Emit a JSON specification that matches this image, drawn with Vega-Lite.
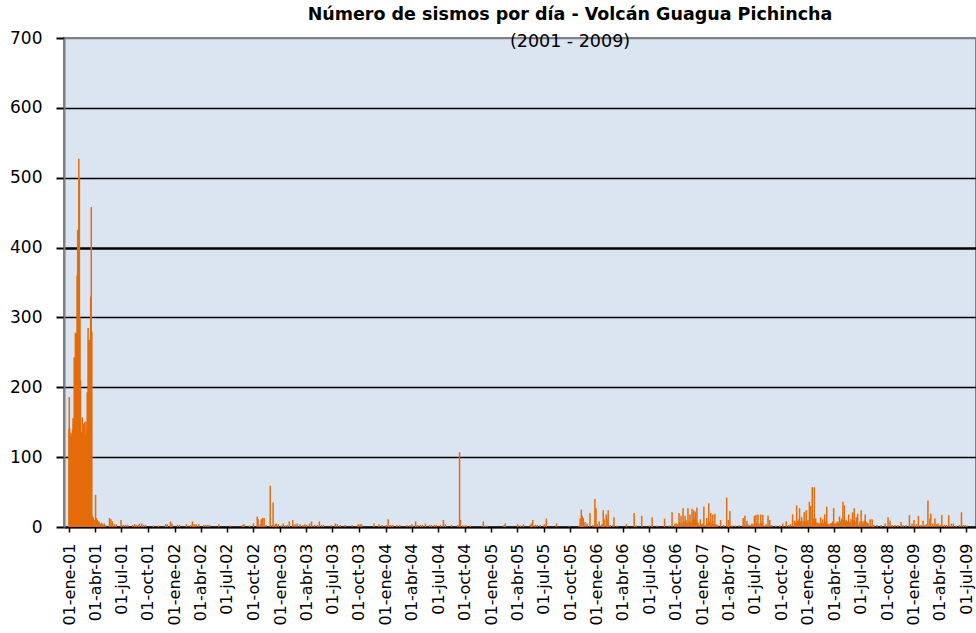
{
  "$schema": "https://vega.github.io/schema/vega-lite/v6.json",
  "width": 912,
  "height": 489,
  "autosize": {"type": "none"},
  "padding": {"left": 64, "top": 38, "right": 0, "bottom": 106},
  "background": "#ffffff",
  "title": {
    "text": "Número de sismos por día - Volcán Guagua Pichincha",
    "subtitle": "(2001 - 2009)",
    "anchor": "middle",
    "dx": 50,
    "offset": -21,
    "font": "DejaVu Sans",
    "fontSize": 17.5,
    "fontWeight": "bold",
    "color": "#000000",
    "subtitleFont": "DejaVu Sans",
    "subtitleFontSize": 17.5,
    "subtitleFontWeight": "normal",
    "subtitleColor": "#000000",
    "subtitlePadding": 9
  },
  "config": {
    "view": {"fill": "#dbe5f1", "stroke": "#808080", "strokeWidth": 2},
    "axis": {"labelFont": "DejaVu Sans", "labelColor": "#000000", "tickColor": "#000000"}
  },
  "data": {
    "values": [
      {"d":"2001-01-01","n":140},{"d":"2001-01-02","n":186},{"d":"2001-01-03","n":142},{"d":"2001-01-05","n":135},
      {"d":"2001-01-07","n":130},{"d":"2001-01-09","n":128},{"d":"2001-01-11","n":134},{"d":"2001-01-13","n":140},
      {"d":"2001-01-15","n":156},{"d":"2001-01-17","n":150},{"d":"2001-01-19","n":243},{"d":"2001-01-21","n":200},
      {"d":"2001-01-23","n":278},{"d":"2001-01-25","n":250},{"d":"2001-01-27","n":278},{"d":"2001-01-29","n":360},
      {"d":"2001-01-31","n":425},{"d":"2001-02-02","n":420},{"d":"2001-02-04","n":527},{"d":"2001-02-06","n":500},
      {"d":"2001-02-08","n":300},{"d":"2001-02-10","n":210},{"d":"2001-02-12","n":136},{"d":"2001-02-14","n":136},
      {"d":"2001-02-16","n":157},{"d":"2001-02-18","n":140},{"d":"2001-02-20","n":148},{"d":"2001-02-22","n":132},
      {"d":"2001-02-24","n":150},{"d":"2001-02-26","n":132},{"d":"2001-03-01","n":151},{"d":"2001-03-03","n":140},
      {"d":"2001-03-05","n":193},{"d":"2001-03-08","n":285},{"d":"2001-03-10","n":268},{"d":"2001-03-12","n":260},
      {"d":"2001-03-14","n":268},{"d":"2001-03-17","n":330},{"d":"2001-03-19","n":458},{"d":"2001-03-21","n":280},
      {"d":"2001-03-24","n":15},{"d":"2001-03-26","n":13},{"d":"2001-03-29","n":10},{"d":"2001-04-03","n":46},
      {"d":"2001-04-06","n":13},{"d":"2001-04-09","n":10},{"d":"2001-04-12","n":8},{"d":"2001-04-15","n":8},
      {"d":"2001-04-19","n":5},{"d":"2001-04-24","n":6},{"d":"2001-04-28","n":4},{"d":"2001-05-03","n":5},
      {"d":"2001-05-07","n":3},{"d":"2001-05-21","n":13},{"d":"2001-05-26","n":11},{"d":"2001-05-31","n":8},
      {"d":"2001-06-06","n":4},{"d":"2001-06-13","n":4},{"d":"2001-06-30","n":10},{"d":"2001-07-03","n":3},
      {"d":"2001-07-09","n":3},{"d":"2001-07-16","n":3},{"d":"2001-07-23","n":3},{"d":"2001-08-09","n":3},
      {"d":"2001-08-16","n":4},{"d":"2001-08-22","n":3},{"d":"2001-08-29","n":3},{"d":"2001-09-02","n":5},
      {"d":"2001-09-10","n":5},{"d":"2001-09-16","n":3},{"d":"2001-09-23","n":3},{"d":"2001-10-20","n":2},
      {"d":"2001-11-06","n":2},{"d":"2001-12-01","n":4},{"d":"2001-12-07","n":4},{"d":"2001-12-18","n":8},
      {"d":"2001-12-23","n":5},{"d":"2002-01-11","n":3},{"d":"2002-01-18","n":3},{"d":"2002-02-11","n":4},
      {"d":"2002-02-25","n":3},{"d":"2002-03-04","n":8},{"d":"2002-03-10","n":4},{"d":"2002-03-17","n":4},
      {"d":"2002-03-26","n":4},{"d":"2002-04-12","n":3},{"d":"2002-04-19","n":3},{"d":"2002-04-26","n":3},
      {"d":"2002-05-02","n":3},{"d":"2002-06-03","n":4},{"d":"2002-07-13","n":2},{"d":"2002-08-24","n":3},
      {"d":"2002-08-29","n":4},{"d":"2002-09-17","n":2},{"d":"2002-10-01","n":5},{"d":"2002-10-14","n":15},
      {"d":"2002-10-17","n":11},{"d":"2002-10-24","n":4},{"d":"2002-10-28","n":11},{"d":"2002-11-02","n":13},
      {"d":"2002-11-07","n":13},{"d":"2002-11-14","n":3},{"d":"2002-11-28","n":59},{"d":"2002-12-05","n":3},
      {"d":"2002-12-08","n":35},{"d":"2002-12-15","n":4},{"d":"2002-12-19","n":5},{"d":"2002-12-26","n":4},
      {"d":"2003-01-05","n":2},{"d":"2003-01-12","n":5},{"d":"2003-01-19","n":2},{"d":"2003-01-26","n":3},
      {"d":"2003-02-02","n":8},{"d":"2003-02-14","n":10},{"d":"2003-02-22","n":4},{"d":"2003-03-01","n":5},
      {"d":"2003-03-11","n":4},{"d":"2003-03-21","n":3},{"d":"2003-03-28","n":4},{"d":"2003-04-03","n":3},
      {"d":"2003-04-13","n":5},{"d":"2003-04-20","n":8},{"d":"2003-04-30","n":3},{"d":"2003-05-10","n":3},
      {"d":"2003-05-17","n":8},{"d":"2003-05-24","n":3},{"d":"2003-05-31","n":3},{"d":"2003-06-27","n":3},
      {"d":"2003-07-11","n":5},{"d":"2003-07-18","n":4},{"d":"2003-07-28","n":3},{"d":"2003-08-14","n":3},
      {"d":"2003-09-07","n":3},{"d":"2003-09-28","n":4},{"d":"2003-10-05","n":4},{"d":"2003-10-10","n":4},
      {"d":"2003-11-22","n":5},{"d":"2003-12-09","n":4},{"d":"2003-12-20","n":3},{"d":"2004-01-03","n":3},
      {"d":"2004-01-10","n":11},{"d":"2004-01-17","n":3},{"d":"2004-01-25","n":3},{"d":"2004-02-09","n":3},
      {"d":"2004-02-19","n":3},{"d":"2004-03-15","n":3},{"d":"2004-03-25","n":3},{"d":"2004-04-01","n":4},
      {"d":"2004-04-14","n":8},{"d":"2004-04-21","n":3},{"d":"2004-05-01","n":3},{"d":"2004-05-08","n":3},
      {"d":"2004-05-18","n":5},{"d":"2004-06-01","n":3},{"d":"2004-06-08","n":3},{"d":"2004-06-18","n":3},
      {"d":"2004-06-25","n":3},{"d":"2004-07-09","n":3},{"d":"2004-07-19","n":10},{"d":"2004-07-26","n":4},
      {"d":"2004-08-16","n":3},{"d":"2004-09-06","n":3},{"d":"2004-09-13","n":107},{"d":"2004-09-16","n":10},
      {"d":"2004-09-24","n":2},{"d":"2004-09-30","n":2},{"d":"2004-10-06","n":2},{"d":"2004-10-20","n":2},
      {"d":"2004-12-04","n":8},{"d":"2004-12-11","n":2},{"d":"2004-12-18","n":2},{"d":"2005-02-14","n":3},
      {"d":"2005-02-18","n":5},{"d":"2005-04-02","n":4},{"d":"2005-04-12","n":2},{"d":"2005-04-22","n":4},
      {"d":"2005-05-16","n":3},{"d":"2005-05-19","n":5},{"d":"2005-05-24","n":10},{"d":"2005-06-02","n":3},
      {"d":"2005-06-09","n":3},{"d":"2005-06-19","n":3},{"d":"2005-07-03","n":4},{"d":"2005-07-10","n":12},
      {"d":"2005-08-14","n":5},{"d":"2005-09-28","n":2},{"d":"2005-11-01","n":2},{"d":"2005-11-04","n":12},
      {"d":"2005-11-08","n":25},{"d":"2005-11-11","n":16},{"d":"2005-11-15","n":13},{"d":"2005-11-21","n":7},
      {"d":"2005-11-28","n":5},{"d":"2005-12-08","n":20},{"d":"2005-12-18","n":3},{"d":"2005-12-25","n":40},
      {"d":"2005-12-29","n":27},{"d":"2006-01-02","n":4},{"d":"2006-01-09","n":8},{"d":"2006-01-16","n":3},
      {"d":"2006-01-19","n":4},{"d":"2006-01-23","n":24},{"d":"2006-01-26","n":11},{"d":"2006-02-02","n":18},
      {"d":"2006-02-05","n":12},{"d":"2006-02-09","n":24},{"d":"2006-02-16","n":3},{"d":"2006-02-26","n":3},
      {"d":"2006-03-01","n":14},{"d":"2006-03-13","n":2},{"d":"2006-04-13","n":4},{"d":"2006-05-10","n":20},
      {"d":"2006-05-17","n":2},{"d":"2006-06-05","n":16},{"d":"2006-07-01","n":2},{"d":"2006-07-11","n":14},
      {"d":"2006-07-28","n":2},{"d":"2006-08-23","n":12},{"d":"2006-09-08","n":2},{"d":"2006-09-18","n":21},
      {"d":"2006-09-28","n":5},{"d":"2006-10-02","n":5},{"d":"2006-10-08","n":4},{"d":"2006-10-12","n":20},
      {"d":"2006-10-15","n":6},{"d":"2006-10-19","n":16},{"d":"2006-10-22","n":5},{"d":"2006-10-26","n":27},
      {"d":"2006-10-29","n":8},{"d":"2006-11-02","n":16},{"d":"2006-11-05","n":10},{"d":"2006-11-09","n":6},
      {"d":"2006-11-12","n":27},{"d":"2006-11-16","n":8},{"d":"2006-11-19","n":18},{"d":"2006-11-22","n":7},
      {"d":"2006-11-26","n":26},{"d":"2006-11-29","n":10},{"d":"2006-12-02","n":24},{"d":"2006-12-05","n":12},
      {"d":"2006-12-08","n":22},{"d":"2006-12-11","n":9},{"d":"2006-12-13","n":28},{"d":"2006-12-17","n":6},
      {"d":"2006-12-20","n":3},{"d":"2006-12-25","n":11},{"d":"2006-12-30","n":4},{"d":"2007-01-03","n":5},
      {"d":"2007-01-06","n":29},{"d":"2007-01-11","n":3},{"d":"2007-01-16","n":13},{"d":"2007-01-20","n":5},
      {"d":"2007-01-23","n":34},{"d":"2007-01-26","n":8},{"d":"2007-01-30","n":20},{"d":"2007-02-03","n":6},
      {"d":"2007-02-06","n":18},{"d":"2007-02-10","n":5},{"d":"2007-02-13","n":19},{"d":"2007-02-17","n":4},
      {"d":"2007-02-23","n":3},{"d":"2007-03-05","n":10},{"d":"2007-03-15","n":3},{"d":"2007-03-26","n":42},
      {"d":"2007-04-01","n":10},{"d":"2007-04-06","n":23},{"d":"2007-04-14","n":2},{"d":"2007-04-25","n":2},
      {"d":"2007-05-08","n":3},{"d":"2007-05-22","n":13},{"d":"2007-05-25","n":4},{"d":"2007-05-28","n":16},
      {"d":"2007-06-04","n":9},{"d":"2007-06-08","n":4},{"d":"2007-06-15","n":3},{"d":"2007-06-21","n":5},
      {"d":"2007-06-25","n":4},{"d":"2007-06-30","n":16},{"d":"2007-07-05","n":17},{"d":"2007-07-08","n":6},
      {"d":"2007-07-12","n":18},{"d":"2007-07-16","n":5},{"d":"2007-07-22","n":18},{"d":"2007-07-25","n":6},
      {"d":"2007-07-29","n":17},{"d":"2007-08-05","n":2},{"d":"2007-08-10","n":4},{"d":"2007-08-16","n":16},
      {"d":"2007-08-22","n":10},{"d":"2007-08-29","n":3},{"d":"2007-09-12","n":2},{"d":"2007-09-26","n":2},
      {"d":"2007-10-06","n":5},{"d":"2007-10-18","n":8},{"d":"2007-10-27","n":3},{"d":"2007-11-02","n":4},
      {"d":"2007-11-09","n":18},{"d":"2007-11-16","n":9},{"d":"2007-11-20","n":6},{"d":"2007-11-23","n":31},
      {"d":"2007-11-27","n":8},{"d":"2007-11-30","n":11},{"d":"2007-12-03","n":27},{"d":"2007-12-07","n":8},
      {"d":"2007-12-10","n":14},{"d":"2007-12-15","n":9},{"d":"2007-12-19","n":21},{"d":"2007-12-22","n":9},
      {"d":"2007-12-26","n":24},{"d":"2007-12-29","n":8},{"d":"2008-01-01","n":10},{"d":"2008-01-06","n":36},
      {"d":"2008-01-11","n":30},{"d":"2008-01-16","n":57},{"d":"2008-01-19","n":12},{"d":"2008-01-23","n":57},
      {"d":"2008-01-28","n":12},{"d":"2008-02-01","n":6},{"d":"2008-02-05","n":6},{"d":"2008-02-09","n":5},
      {"d":"2008-02-14","n":14},{"d":"2008-02-17","n":6},{"d":"2008-02-21","n":11},{"d":"2008-02-24","n":6},
      {"d":"2008-02-28","n":18},{"d":"2008-03-02","n":8},{"d":"2008-03-06","n":29},{"d":"2008-03-09","n":5},
      {"d":"2008-03-13","n":4},{"d":"2008-03-18","n":5},{"d":"2008-03-23","n":6},{"d":"2008-03-27","n":8},
      {"d":"2008-03-30","n":27},{"d":"2008-04-02","n":5},{"d":"2008-04-05","n":4},{"d":"2008-04-08","n":6},
      {"d":"2008-04-12","n":8},{"d":"2008-04-16","n":6},{"d":"2008-04-19","n":15},{"d":"2008-04-22","n":8},
      {"d":"2008-04-26","n":12},{"d":"2008-05-01","n":36},{"d":"2008-05-03","n":10},{"d":"2008-05-06","n":31},
      {"d":"2008-05-09","n":8},{"d":"2008-05-12","n":10},{"d":"2008-05-16","n":8},{"d":"2008-05-21","n":18},
      {"d":"2008-05-25","n":7},{"d":"2008-05-29","n":11},{"d":"2008-06-03","n":21},{"d":"2008-06-06","n":10},
      {"d":"2008-06-09","n":27},{"d":"2008-06-12","n":8},{"d":"2008-06-16","n":14},{"d":"2008-06-21","n":19},
      {"d":"2008-06-26","n":5},{"d":"2008-06-29","n":8},{"d":"2008-07-03","n":24},{"d":"2008-07-06","n":8},
      {"d":"2008-07-10","n":5},{"d":"2008-07-13","n":9},{"d":"2008-07-17","n":18},{"d":"2008-07-20","n":8},
      {"d":"2008-07-24","n":6},{"d":"2008-07-28","n":5},{"d":"2008-08-03","n":11},{"d":"2008-08-10","n":11},
      {"d":"2008-08-16","n":3},{"d":"2008-08-27","n":3},{"d":"2008-09-10","n":3},{"d":"2008-09-24","n":5},
      {"d":"2008-10-04","n":14},{"d":"2008-10-11","n":9},{"d":"2008-10-18","n":3},{"d":"2008-10-28","n":3},
      {"d":"2008-11-07","n":3},{"d":"2008-11-18","n":7},{"d":"2008-11-25","n":3},{"d":"2008-12-05","n":3},
      {"d":"2008-12-17","n":17},{"d":"2008-12-26","n":5},{"d":"2009-01-02","n":10},{"d":"2009-01-10","n":4},
      {"d":"2009-01-17","n":16},{"d":"2009-01-26","n":3},{"d":"2009-02-02","n":9},{"d":"2009-02-09","n":3},
      {"d":"2009-02-14","n":4},{"d":"2009-02-19","n":38},{"d":"2009-02-26","n":12},{"d":"2009-03-01","n":19},
      {"d":"2009-03-08","n":5},{"d":"2009-03-15","n":12},{"d":"2009-03-20","n":4},{"d":"2009-03-26","n":5},
      {"d":"2009-04-03","n":3},{"d":"2009-04-08","n":17},{"d":"2009-04-17","n":3},{"d":"2009-04-24","n":3},
      {"d":"2009-05-02","n":17},{"d":"2009-05-11","n":5},{"d":"2009-05-18","n":5},{"d":"2009-05-28","n":2},
      {"d":"2009-06-08","n":3},{"d":"2009-06-15","n":21},{"d":"2009-06-22","n":3},{"d":"2009-06-28","n":3},
      {"d":"2009-07-05","n":2}
    ]
  },
  "mark": {"type": "bar", "width": 1.5, "color": "#e46c0a"},
  "encoding": {
    "x": {
      "field": "d",
      "type": "temporal",
      "scale": {
        "type": "utc",
        "domain": [
          {"year": 2001, "month": 1, "date": 1, "utc": true},
          {"year": 2009, "month": 7, "date": 18, "utc": true}
        ]
      },
      "axis": {
        "title": null,
        "values": [
          {"year":2001,"month":1,"date":1,"utc":true},{"year":2001,"month":4,"date":1,"utc":true},{"year":2001,"month":7,"date":1,"utc":true},{"year":2001,"month":10,"date":1,"utc":true},
          {"year":2002,"month":1,"date":1,"utc":true},{"year":2002,"month":4,"date":1,"utc":true},{"year":2002,"month":7,"date":1,"utc":true},{"year":2002,"month":10,"date":1,"utc":true},
          {"year":2003,"month":1,"date":1,"utc":true},{"year":2003,"month":4,"date":1,"utc":true},{"year":2003,"month":7,"date":1,"utc":true},{"year":2003,"month":10,"date":1,"utc":true},
          {"year":2004,"month":1,"date":1,"utc":true},{"year":2004,"month":4,"date":1,"utc":true},{"year":2004,"month":7,"date":1,"utc":true},{"year":2004,"month":10,"date":1,"utc":true},
          {"year":2005,"month":1,"date":1,"utc":true},{"year":2005,"month":4,"date":1,"utc":true},{"year":2005,"month":7,"date":1,"utc":true},{"year":2005,"month":10,"date":1,"utc":true},
          {"year":2006,"month":1,"date":1,"utc":true},{"year":2006,"month":4,"date":1,"utc":true},{"year":2006,"month":7,"date":1,"utc":true},{"year":2006,"month":10,"date":1,"utc":true},
          {"year":2007,"month":1,"date":1,"utc":true},{"year":2007,"month":4,"date":1,"utc":true},{"year":2007,"month":7,"date":1,"utc":true},{"year":2007,"month":10,"date":1,"utc":true},
          {"year":2008,"month":1,"date":1,"utc":true},{"year":2008,"month":4,"date":1,"utc":true},{"year":2008,"month":7,"date":1,"utc":true},{"year":2008,"month":10,"date":1,"utc":true},
          {"year":2009,"month":1,"date":1,"utc":true},{"year":2009,"month":4,"date":1,"utc":true},{"year":2009,"month":7,"date":1,"utc":true}
        ],
        "labelExpr": "utcFormat(datum.value, '%d') + '-' + ['ene','feb','mar','abr','may','jun','jul','ago','sep','oct','nov','dic'][utcmonth(datum.value)] + '-' + utcFormat(datum.value, '%y')",
        "labelAngle": -90,
        "labelFontSize": 16,
        "labelPadding": 11,
        "labelOverlap": false,
        "labelFlush": false,
        "tickSize": 5,
        "tickWidth": 1.5,
        "domainColor": "#000000",
        "domainWidth": 2,
        "grid": false
      }
    },
    "y": {
      "field": "n",
      "type": "quantitative",
      "scale": {"domain": [0, 700], "nice": false},
      "axis": {
        "title": null,
        "values": [0, 100, 200, 300, 400, 500, 600, 700],
        "format": "d",
        "labelFontSize": 17,
        "labelPadding": 14,
        "tickSize": 8,
        "tickWidth": 2,
        "domainColor": "#7f7f7f",
        "domainWidth": 2,
        "grid": true,
        "gridColor": {"condition": {"test": "datum.value == 700", "value": "#808080"}, "value": "#000000"},
        "gridWidth": {"condition": {"test": "datum.value == 400", "value": 2.5}, "value": 1.3},
        "gridOpacity": 1
      }
    }
  }
}
